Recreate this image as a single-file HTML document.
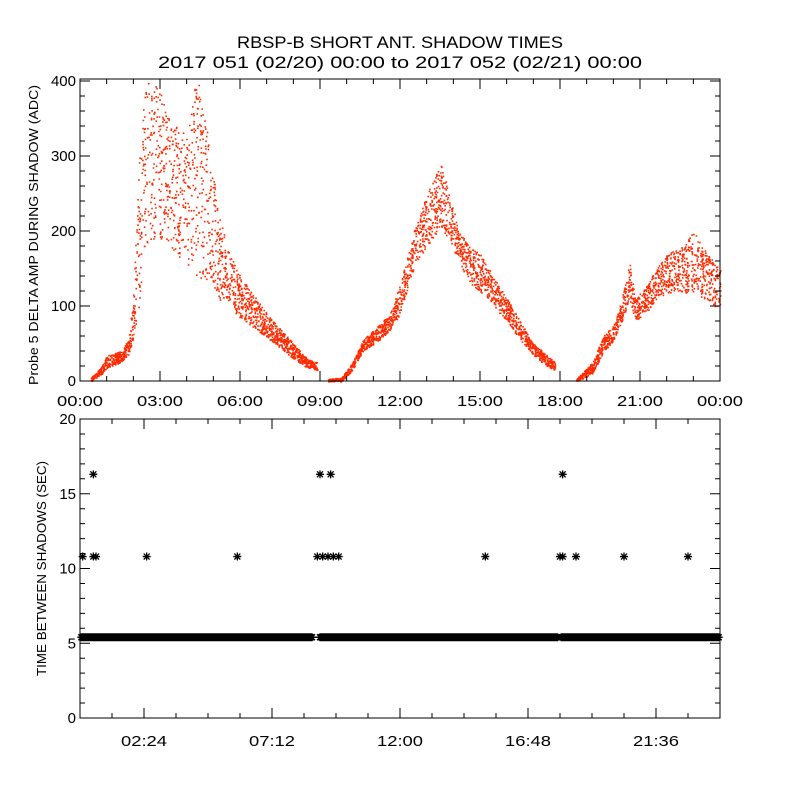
<!DOCTYPE html>
<html><head><meta charset="utf-8"><style>
body{margin:0;background:#fff;}
svg{display:block;font-family:"Liberation Sans",sans-serif;}
</style></head><body>
<svg id="c" width="800" height="800">
<rect width="800" height="800" fill="#fff"/>
<text x="400" y="48" font-size="17" text-anchor="middle" textLength="326" lengthAdjust="spacingAndGlyphs">RBSP-B SHORT ANT. SHADOW TIMES</text>
<text x="400" y="68" font-size="17" text-anchor="middle" textLength="484" lengthAdjust="spacingAndGlyphs">2017 051 (02/20) 00:00 to 2017 052 (02/21) 00:00</text>
<g id="topPanel"></g>
<g id="botPanel"></g>
</svg>
<script>
// Top panel envelope: hours, low, high (ADC)
const ampHours=[0.4,0.8,1.0,1.5,1.8,2.0,2.2,2.4,2.8,3.2,3.6,4.0,4.4,4.8,5.2,5.6,6.0,6.5,7.0,7.5,8.0,8.5,8.9,null,9.3,9.8,10.2,10.6,11.2,11.6,12.0,12.5,13.0,13.5,13.8,14.2,14.6,15.0,15.5,16.0,16.5,17.0,17.5,17.8,null,18.6,19.2,19.6,20.0,20.3,20.6,20.8,21.2,21.6,22.0,22.6,23.0,23.5,24.0];
const ampLow=[0,10,18,25,35,60,100,170,190,190,170,150,140,130,110,95,85,72,58,45,30,18,15,null,0,0,15,40,55,68,90,150,180,205,190,160,130,120,100,80,55,35,20,15,null,0,10,38,55,80,110,80,90,110,118,118,118,108,95];
const ampHigh=[5,20,35,40,55,120,300,420,420,360,340,330,420,330,220,170,140,115,90,70,50,30,25,null,3,5,25,55,75,90,130,200,250,290,260,200,180,170,140,110,80,50,35,25,null,3,25,60,75,110,160,110,125,150,170,180,200,170,150];
// Bottom panel
const t108=[0.1,0.5,0.6,2.5,5.9,8.9,9.1,9.3,9.5,9.7,15.2,18.0,18.1,18.6,20.4,22.8];
const t163=[0.5,9.0,9.4,18.1];
const rowStart=[0.05,9.0,18.05];
const rowEnd=[8.7,17.95,24];
const rowValue=5.4, midValue=10.8, highValue=16.3;
const topTicksY=[0,100,200,300,400];
const topTicksX=["00:00","03:00","06:00","09:00","12:00","15:00","18:00","21:00","00:00"];
const botTicksY=[0,5,10,15,20];
const botTicksX=["02:24","07:12","12:00","16:48","21:36"];

const NS="http://www.w3.org/2000/svg";
function mk(p,tag,a){const e=document.createElementNS(NS,tag);for(const k in a)e.setAttribute(k,a[k]);p.appendChild(e);return e;}
const L=80,R=720;
const xs=h=>L+(R-L)*h/24;
const T0=381,T1=81; const ys1=v=>T0+(T1-T0)*v/400;
const B0=718,B1=419; const ys2=v=>B0+(B1-B0)*v/20;
const topG=document.getElementById('topPanel'), botG=document.getElementById('botPanel');

let seed=7;function rnd(){seed=(seed*16807)%2147483647;return seed/2147483647;}
let d="";
for(let i=0;i<ampHours.length-1;i++){
  if(ampHours[i]===null||ampHours[i+1]===null)continue;
  const h0=ampHours[i],h1=ampHours[i+1];const n=Math.round((h1-h0)*220);
  for(let j=0;j<n;j++){const f=rnd();const h=h0+(h1-h0)*f;
    const lo=ampLow[i]+(ampLow[i+1]-ampLow[i])*f, hi=ampHigh[i]+(ampHigh[i+1]-ampHigh[i])*f;
    const v=lo+(hi-lo)*rnd();const y=ys1(v);if(y<T1)continue;
    d+=`M${xs(h).toFixed(1)} ${y.toFixed(1)}h1.6v1.6h-1.6z`;}
}
const pts=mk(topG,'path',{d:d,fill:'#ff2a00'});



mk(topG,'rect',{x:L,y:T1-2,width:R-L,height:T0-T1+2,fill:'none',stroke:'#000'});
let tk="";
for(let v=0;v<=400;v+=20){const y=ys1(v);const len=v%100===0?10:5;tk+=`M${L} ${y}h${len}M${R} ${y}h${-len}`;}
for(let h=0;h<=24;h++){const len=h%3===0?10:5;tk+=`M${xs(h)} ${T0}v${-len}M${xs(h)} ${T1-2}v${len}`;}
mk(topG,'path',{d:tk,stroke:'#000',fill:'none'});
topTicksY.forEach(v=>{const t=mk(topG,'text',{x:L-4,y:ys1(v)+5,'font-size':15,'text-anchor':'end'});t.textContent=v;
});
topTicksX.forEach((s,i)=>{const t=mk(topG,'text',{x:xs(i*3),y:T0+25,'font-size':15,'text-anchor':'middle',textLength:46,lengthAdjust:'spacingAndGlyphs'});t.textContent=s;
});
const yt=mk(topG,'text',{x:0,y:0,'font-size':13,'text-anchor':'middle',textLength:300,lengthAdjust:'spacingAndGlyphs',transform:`translate(38,${(T0+T1)/2+4}) rotate(-90)`});
yt.textContent="Probe 5 DELTA AMP DURING SHADOW (ADC)";


function star(h,v){const x=xs(h),y=ys2(v);return `M${x-4} ${y}h8M${x} ${y-4}v8M${x-3} ${y-3}l6 6M${x-3} ${y+3}l6 -6`;}
let sd="";
for(let k=0;k<rowStart.length;k++){for(let h=rowStart[k];h<=rowEnd[k];h+=0.05)sd+=star(h,rowValue);}
const row=mk(botG,'path',{d:sd,stroke:'#000','stroke-width':1.5,fill:'none'});

let s2="";t108.forEach(h=>s2+=star(h,midValue));
const m=mk(botG,'path',{d:s2,stroke:'#000','stroke-width':1.3,fill:'none'});

let s3="";t163.forEach(h=>s3+=star(h,highValue));
const hh=mk(botG,'path',{d:s3,stroke:'#000','stroke-width':1.3,fill:'none'});

mk(botG,'rect',{x:L,y:B1,width:R-L,height:B0-B1,fill:'none',stroke:'#000'});
let bt="";
for(let v=0;v<=20;v++){const y=ys2(v);const len=v%5===0?10:5;bt+=`M${L} ${y}h${len}M${R} ${y}h${-len}`;}
for(let i=0;i<=20;i++){const h=i*1.2;const len=i%4===2?10:5;bt+=`M${xs(h)} ${B0}v${-len}M${xs(h)} ${B1}v${len}`;}
mk(botG,'path',{d:bt,stroke:'#000',fill:'none'});
botTicksY.forEach(v=>{const t=mk(botG,'text',{x:L-4,y:ys2(v)+5,'font-size':15,'text-anchor':'end'});t.textContent=v;
});
botTicksX.forEach((s,i)=>{const t=mk(botG,'text',{x:xs(2.4+i*4.8),y:B0+28,'font-size':15,'text-anchor':'middle',textLength:46,lengthAdjust:'spacingAndGlyphs'});t.textContent=s;
});
const yt2=mk(botG,'text',{x:0,y:0,'font-size':13,'text-anchor':'middle',textLength:215,lengthAdjust:'spacingAndGlyphs',transform:`translate(46,${(B0+B1)/2}) rotate(-90)`});
yt2.textContent="TIME BETWEEN SHADOWS (SEC)";

</script>
</body></html>
